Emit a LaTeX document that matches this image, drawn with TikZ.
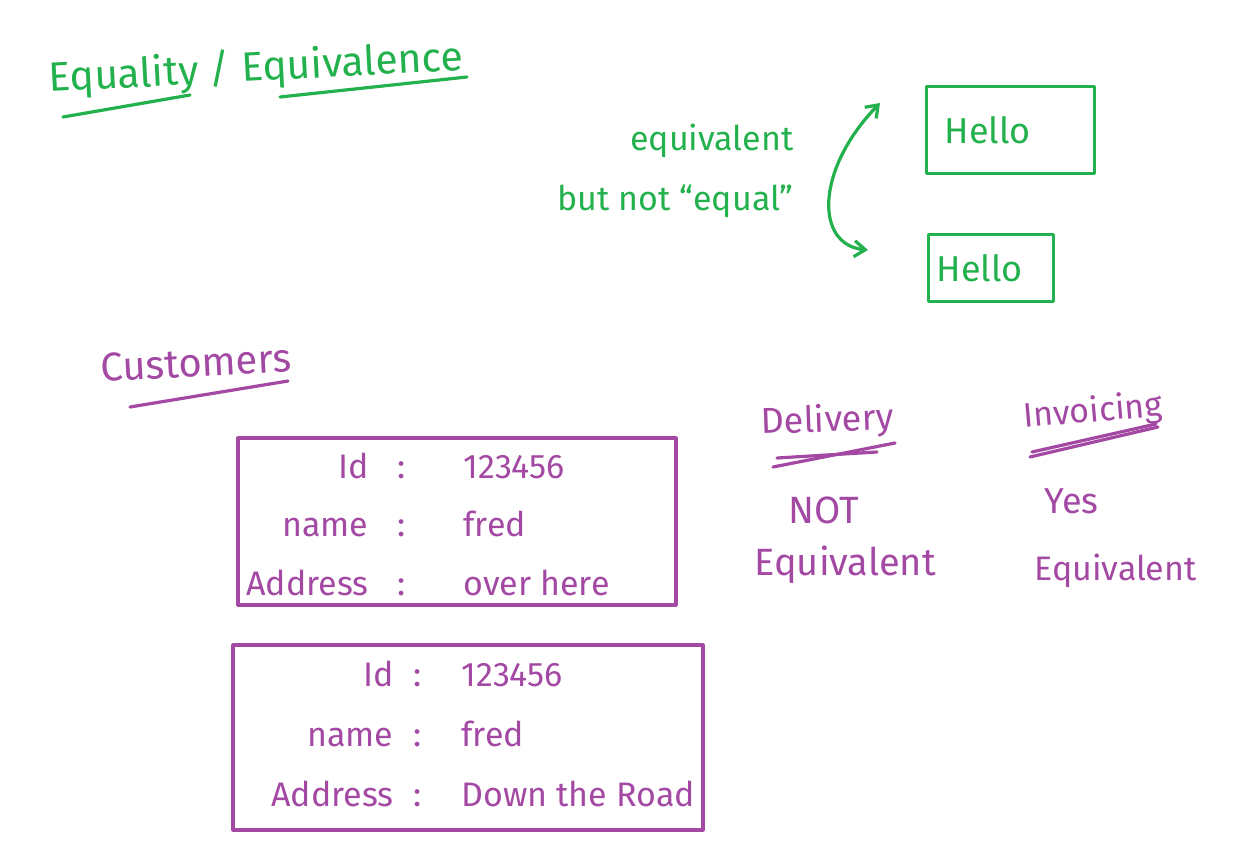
\documentclass[tikz,border=0pt]{standalone}
\usepackage{fontspec}
\setmainfont{Fira Sans}
\usetikzlibrary{arrows.meta}
\definecolor{inkgreen}{RGB}{34,177,76}
\definecolor{inkpurple}{RGB}{163,73,164}
\newcommand{\pen}[1]{\fontsize{#1}{#1}\selectfont}

\begin{document}
\begin{tikzpicture}[x=1pt, y=-1pt, line width=3.2pt, line cap=round, line join=round,
    every node/.style={inner sep=0pt},
    greenink/.style={text=inkgreen},
    purpleink/.style={text=inkpurple},
    gline/.style={draw=inkgreen},
    pline/.style={draw=inkpurple},
    hellobox/.style={draw=inkgreen, text=inkgreen, align=left, anchor=north west, font=\pen{36}}]
    \useasboundingbox (0,0) rectangle (1254,841);
    \fill[white] (0,0) rectangle (1254,841);

    % heading
    \node[greenink, anchor=base west, rotate=3, font=\pen{41}] (title) at (48,92) {Equality / Equivalence};
    \draw[gline] (63,117) -- (190,95);
    \draw[gline] (280,97) -- (467,77);

    % the two strings
    \node[greenink, anchor=base east, font=\pen{34}] (equiv) at (795,150) {equivalent};
    \node[greenink, anchor=base east, font=\pen{34}] (notequal) at (795,210) {but not \textquotedblleft equal\textquotedblright};
    \node[hellobox, inner xsep=18pt, text width=132pt, minimum height=87pt] (hello1) at (925,85) {Hello};
    \node[hellobox, inner xsep=8pt, text width=109pt, minimum height=67pt] (hello2) at (927,233) {Hello};
    \coordinate (tiptop) at (880,103);
    \coordinate (tipbot) at (868,250);
    \draw[gline, {Straight Barb[length=11pt,width=16pt]}-{Straight Barb[length=11pt,width=16pt]}] (tipbot) .. controls (815,245) and (815,170) .. (tiptop);

    % customers
    \node[purpleink, anchor=base west, rotate=3, font=\pen{40}] (cust) at (100,382) {Customers};
    \draw[pline] (130,407) -- (288,381);

    \draw[pline] (238,438) rectangle (676,605);
    \foreach \r/\y/\fld/\val in {1/478/Id/123456, 2/536/name/fred, 3/595/Address/over here} {
        \node[purpleink, anchor=base east, font=\pen{34}] (ka\r) at (370,\y) {\fld};
        \node[purpleink, anchor=base, font=\pen{34}] (ca\r) at (402,\y) {:};
        \node[purpleink, anchor=base west, font=\pen{34}] (va\r) at (462,\y) {\val};
    }
    \draw[pline] (233,645) rectangle (703,830);
    \foreach \r/\y/\fld/\val in {1/686/Id/123456, 2/746/name/fred, 3/806/Address/Down the Road} {
        \node[purpleink, anchor=base east, font=\pen{34}] (kb\r) at (395,\y) {\fld};
        \node[purpleink, anchor=base, font=\pen{34}] (cb\r) at (418,\y) {:};
        \node[purpleink, anchor=base west, font=\pen{34}] (vb\r) at (460,\y) {\val};
    }

    % delivery / invoicing
    \node[purpleink, anchor=base west, rotate=2, font=\pen{36}] (deliv) at (760,434) {Delivery};
    \draw[pline] (773,467) -- (895,443);
    \draw[pline] (777,458) -- (877,452);
    \node[purpleink, anchor=base west, font=\pen{38}] (notlbl) at (787,523) {NOT};
    \node[purpleink, anchor=base west, font=\pen{38}] (notequiv) at (753,575) {Equivalent};

    \node[purpleink, anchor=base west, rotate=5, font=\pen{34}] (invoice) at (1023,428) {Invoicing};
    \draw[pline] (1030,457) -- (1158,427);
    \draw[pline] (1032,452) -- (1156,424);
    \node[purpleink, anchor=base west, font=\pen{36}] (yes) at (1043,513) {Yes};
    \node[purpleink, anchor=base west, font=\pen{34}] (yesequiv) at (1033,580) {Equivalent};
\end{tikzpicture}
\end{document}
